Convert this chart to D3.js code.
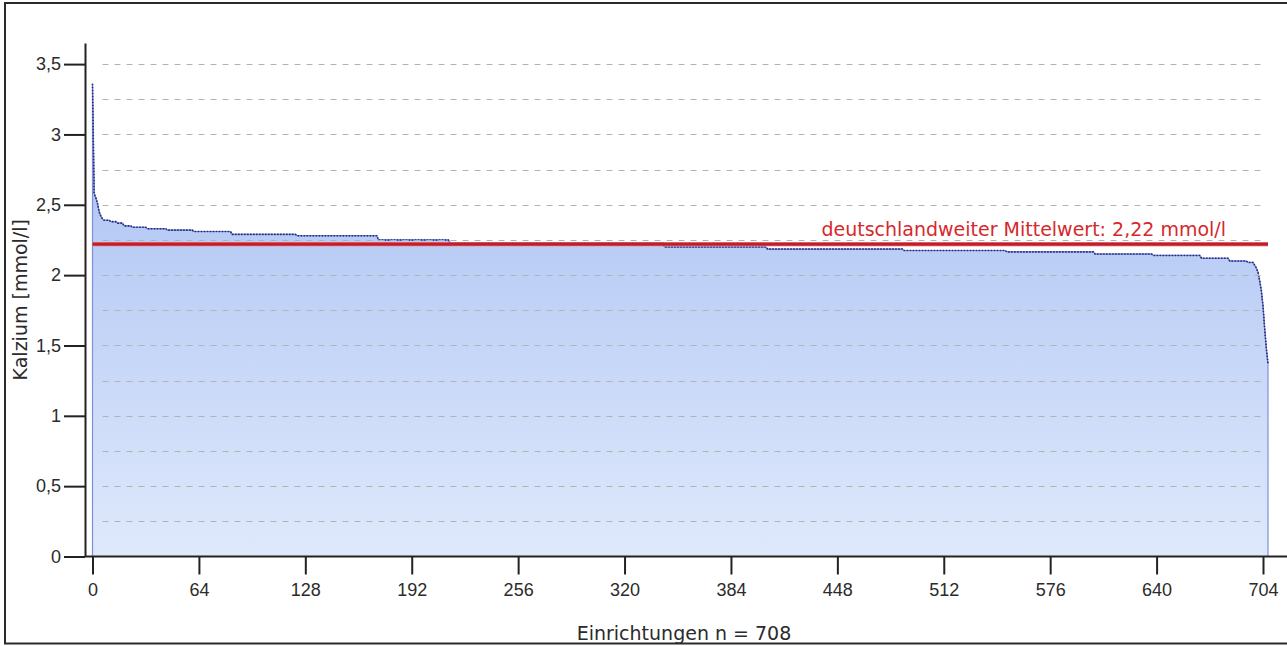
<!DOCTYPE html>
<meta charset="utf-8">
<style>
body { margin: 0; background: #fff; }
svg { display: block; font-family: "DejaVu Sans", Verdana, sans-serif; }
.grid line { stroke: #b3b3b3; stroke-width: 1px; stroke-dasharray: 6,6; }
.axis path, .axis line { stroke: #222; stroke-width: 2px; }
.axis text { font-size: 18px; fill: #2b2b2b; }
.title { font-size: 19px; fill: #2b2b2b; }
.frame { fill: none; stroke: #2a2a2a; stroke-width: 2px; }
</style>
<body>
<svg width="1287" height="646">
  <defs>
    <linearGradient id="fillGrad" x1="0" y1="0" x2="0" y2="1">
      <stop offset="0%" stop-color="#a6bef2"></stop>
      <stop offset="100%" stop-color="#dfe9fc"></stop>
    </linearGradient>
  </defs>
  <path class="frame"></path>
  <g class="area"></g>
  <g class="grid"></g>
  <g class="mean"></g>
  <g class="axis y"></g>
  <g class="axis x"></g>
</svg>

<script src="https://cdn.jsdelivr.net/npm/d3@7/dist/d3.min.js"></script>
<script>

// calcium per facility, sorted descending, stored as runs: value and number of facilities
let runValues = [3.36, 2.58, 2.55, 2.51, 2.45, 2.42, 2.40, 2.39, 2.38, 2.37, 2.35, 2.34, 2.33, 2.32, 2.31,
  2.29, 2.28, 2.25, 2.23, 2.20, 2.185, 2.175, 2.165, 2.15, 2.14, 2.12, 2.10, 2.09,
  2.07, 2.05, 2.02, 1.96, 1.89, 1.78, 1.62, 1.48, 1.37];
let runCounts = [1, 1, 1, 1, 1, 1, 1, 4, 4, 4, 5, 9, 12, 16, 23,
  39, 49, 43, 129, 62, 82, 62, 53, 35, 29, 17, 11, 4,
  1, 1, 1, 1, 1, 1, 1, 1, 1];

let meanValue = 2.22;
let meanLabel = 'deutschlandweiter Mittelwert: 2,22 mmol/l';
let xTickValues = [0, 64, 128, 192, 256, 320, 384, 448, 512, 576, 640, 704];
let yTickValues = [0, 0.5, 1, 1.5, 2, 2.5, 3, 3.5];
let gridValues = [0.25, 0.5, 0.75, 1, 1.25, 1.5, 1.75, 2, 2.25, 2.5, 2.75, 3, 3.25, 3.5];
let xTitle = 'Einrichtungen n = 708';
let yTitle = 'Kalzium [mmol/l]';

// unroll the runs into one value per facility
let values = [];
runValues.forEach(function(v, i) {
  for (let k = 0; k < runCounts[i]; k++) values.push(v);
});

let svg = d3.select('svg');
let axisLeftX = 85, axisY = 556.5, rightEdge = 1287;

let x = d3.scaleLinear().domain([0, 704]).range([92.5, 1263]);
let y = d3.scaleLinear().domain([0, 3.65]).range([axisY, 43]);

// outer frame (right edge is cut off in the screenshot)
svg.select('.frame').attr('d', 'M' + rightEdge + ',3H5V643.5H' + rightEdge);

// area under the sorted values
let area = d3.area()
  .x(function(d, i) { return x(i); })
  .y0(y(0))
  .y1(function(d) { return y(d); });

let line = d3.line()
  .x(function(d, i) { return x(i); })
  .y(function(d) { return y(d); });

let ga = svg.select('g.area');
ga.append('path')
  .datum(values)
  .attr('d', area)
  .attr('fill', 'url(#fillGrad)')
  .attr('stroke', '#7f8fd6')
  .attr('stroke-width', 1.2);

// horizontal dashed grid
svg.select('g.grid')
  .selectAll('line')
  .data(gridValues)
  .enter()
  .append('line')
  .attr('x1', x(0) + 10)
  .attr('x2', x(704) + 3)
  .attr('y1', function(d) { return Math.round(y(d)) + 0.5; })
  .attr('y2', function(d) { return Math.round(y(d)) + 0.5; });

// top outline of the data, drawn dotted like the original
ga.append('path')
  .datum(values)
  .attr('d', line)
  .attr('fill', 'none')
  .attr('stroke', '#7483d2')
  .attr('stroke-width', 1);
ga.append('path')
  .datum(values)
  .attr('d', line)
  .attr('fill', 'none')
  .attr('stroke', '#262a78')
  .attr('stroke-width', 1.6)
  .attr('stroke-dasharray', '1.5,1.5');

// mean line + label
let gm = svg.select('g.mean');
gm.append('line')
  .attr('x1', x(0)).attr('x2', x(values.length - 1))
  .attr('y1', y(meanValue)).attr('y2', y(meanValue))
  .attr('stroke', '#f19090')
  .attr('stroke-width', 4.5)
  .attr('opacity', 0.8);
gm.append('line')
  .attr('x1', x(0)).attr('x2', x(values.length - 1))
  .attr('y1', y(meanValue)).attr('y2', y(meanValue))
  .attr('stroke', '#c21d29')
  .attr('stroke-width', 3.2);
gm.append('text')
  .attr('x', 1226)
  .attr('y', y(meanValue) - 8)
  .attr('text-anchor', 'end')
  .attr('fill', '#d6282c')
  .style('font-size', '19px')
  .text(meanLabel);

// axes
let yAxis = d3.axisLeft(y)
  .tickValues(yTickValues)
  .tickSize(21)
  .tickSizeOuter(0)
  .tickPadding(3)
  .tickFormat(function(d) { return String(d).replace('.', ','); });

svg.select('g.axis.y')
  .attr('transform', 'translate(' + axisLeftX + ',0)')
  .call(yAxis);

let xAxis = d3.axisBottom(x)
  .tickValues(xTickValues)
  .tickSize(18)
  .tickSizeOuter(0)
  .tickPadding(9);

let gx = svg.select('g.axis.x')
  .attr('transform', 'translate(0,' + axisY + ')')
  .call(xAxis);
gx.select('.domain').remove();
gx.append('line')
  .attr('x1', axisLeftX).attr('x2', rightEdge)
  .attr('y1', 0).attr('y2', 0)
  .attr('stroke', '#222')
  .attr('stroke-width', 2);

// titles
svg.append('text')
  .attr('class', 'title')
  .attr('x', 684)
  .attr('y', 640)
  .attr('text-anchor', 'middle')
  .text(xTitle);

svg.append('text')
  .attr('class', 'title')
  .attr('transform', 'translate(27,' + ((axisY + 43) / 2) + ') rotate(-90)')
  .attr('text-anchor', 'middle')
  .text(yTitle);

// keep frame on top of the x title
svg.select('.frame').raise();

</script>
</body>
